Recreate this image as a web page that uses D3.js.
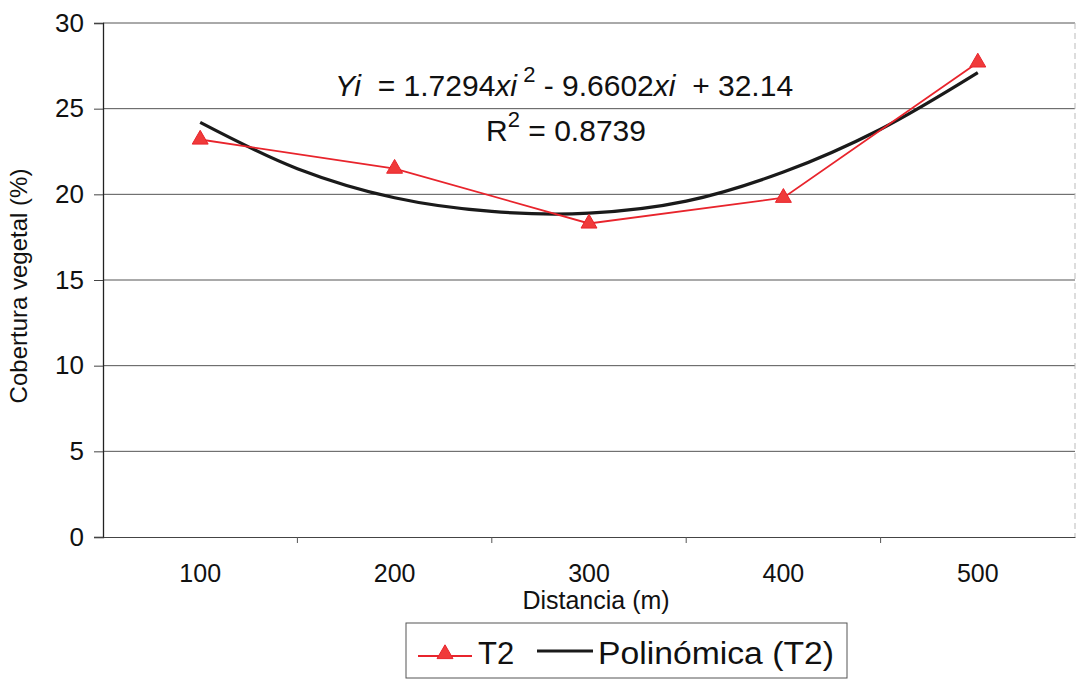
<!DOCTYPE html>
<html lang="es">
<head>
  <meta charset="UTF-8">
  <script src="https://d3js.org/d3.v7.min.js"></script>
  <style>
    body { margin: 0; background: #fff; }
    text { font-family: "Liberation Sans", Arial, sans-serif; fill: #111; white-space: pre; }
  </style>
  <title>Cobertura vegetal T2</title>
</head>
<body>
  <svg id="chart" width="1078" height="680"></svg>
  <script>
    // distancias (m) y cobertura vegetal observada (%)
    var distancias = [100, 200, 300, 400, 500];
    var t2 = [23.2, 21.5, 18.3, 19.8, 27.7];
    // tendencia polinómica, cada media categoría
    var trendX = [1, 1.5, 2, 2.5, 3, 3.5, 4, 4.5, 5];
    var trendY = [24.2, 21.5, 19.8, 19.0, 18.9, 19.6, 21.3, 23.8, 27.1];
    var yTicks = [0, 5, 10, 15, 20, 25, 30];

    var m = { left: 103, right: 1075, top: 23, bottom: 537 };
    var svg = d3.select('#chart');

    var x = d3.scaleBand().domain(distancias).range([m.left, m.right]);
    var bw = x.bandwidth();
    var xi = d3.scaleLinear().domain([1, 5])
      .range([x(distancias[0]) + bw / 2, x(distancias[4]) + bw / 2]);
    var y = d3.scaleLinear().domain([0, 30]).range([m.bottom, m.top]);

    // gridlines
    svg.append('g').selectAll('line').data(yTicks.slice(1)).join('line')
      .attr('x1', m.left).attr('x2', m.right)
      .attr('y1', d => y(d)).attr('y2', d => y(d))
      .attr('stroke', '#555').attr('stroke-width', 1);
    svg.append('line')
      .attr('x1', m.right).attr('x2', m.right).attr('y1', m.top).attr('y2', m.bottom)
      .attr('stroke', '#bbb').attr('stroke-dasharray', '6,4');

    // y axis
    var ya = svg.append('g').attr('transform', 'translate(' + m.left + ',0)')
      .call(d3.axisLeft(y).tickValues(yTicks).tickSize(9).tickPadding(10));
    ya.select('.domain').attr('stroke', '#222').attr('stroke-width', 1.3);
    ya.selectAll('.tick line').attr('stroke', '#444');
    ya.selectAll('text').style('font-size', '26px').attr('fill', '#111');

    // x axis, ticks between categories
    var xa = svg.append('g').attr('transform', 'translate(0,' + m.bottom + ')')
      .call(d3.axisBottom(x).tickSize(0).tickPadding(27));
    xa.select('.domain').attr('stroke', '#444').attr('stroke-width', 1);
    xa.selectAll('text').style('font-size', '25px').attr('fill', '#111');
    xa.selectAll('.sep').data(distancias.slice(1)).join('line').attr('class', 'sep')
      .attr('x1', d => x(d)).attr('x2', d => x(d)).attr('y1', 0).attr('y2', 6)
      .attr('stroke', '#555');

    // axis titles
    svg.append('text').attr('x', 596).attr('y', 609).attr('text-anchor', 'middle')
      .style('font-size', '25px').text('Distancia (m)');
    svg.append('text').attr('transform', 'translate(27,286) rotate(-90)')
      .attr('text-anchor', 'middle').style('font-size', '24px')
      .text('Cobertura vegetal (%)');

    // trendline
    var trend = trendX.map((d, i) => [d, trendY[i]]);
    svg.append('path').datum(trend)
      .attr('d', d3.line().x(d => xi(d[0])).y(d => y(d[1])).curve(d3.curveCatmullRom))
      .attr('fill', 'none').attr('stroke', '#1a1a1a').attr('stroke-width', 3.2);

    // T2 series
    var red = '#e8242c';
    svg.append('path').datum(t2)
      .attr('d', d3.line().x((d, i) => x(distancias[i]) + bw / 2).y(d => y(d)))
      .attr('fill', 'none').attr('stroke', red).attr('stroke-width', 1.8);
    var tri = d3.symbol().type(d3.symbolTriangle).size(110);
    svg.append('g').selectAll('path').data(t2).join('path')
      .attr('d', tri)
      .attr('transform', (d, i) => 'translate(' + (x(distancias[i]) + bw / 2) + ',' + y(d) + ')')
      .attr('fill', '#f03a3a').attr('stroke', red).attr('stroke-width', 1);

    // equation label
    var eq = svg.append('text').attr('x', 564).attr('y', 96).attr('text-anchor', 'middle')
      .style('font-size', '30px');
    eq.append('tspan').style('font-style', 'italic').text('Yi');
    eq.append('tspan').text('  = 1.7294');
    eq.append('tspan').style('font-style', 'italic').text('xi');
    eq.append('tspan').attr('dy', -14).style('font-size', '22px').text(' 2');
    eq.append('tspan').attr('dy', 14).text(' - 9.6602');
    eq.append('tspan').style('font-style', 'italic').text('xi');
    eq.append('tspan').text('  + 32.14');

    var r2 = svg.append('text').attr('x', 566).attr('y', 141).attr('text-anchor', 'middle')
      .style('font-size', '30px');
    r2.append('tspan').text('R');
    r2.append('tspan').attr('dy', -14).style('font-size', '22px').text('2');
    r2.append('tspan').attr('dy', 14).text(' = 0.8739');

    // legend
    var lg = svg.append('g');
    lg.append('rect').attr('x', 406).attr('y', 623).attr('width', 441).attr('height', 55)
      .attr('fill', '#fff').attr('stroke', '#555').attr('stroke-width', 1);
    lg.append('line').attr('x1', 418).attr('x2', 472).attr('y1', 656).attr('y2', 656)
      .attr('stroke', red).attr('stroke-width', 1.8);
    lg.append('path').attr('d', tri).attr('transform', 'translate(445,654)')
      .attr('fill', '#f03a3a').attr('stroke', red);
    lg.append('text').attr('x', 478).attr('y', 664).style('font-size', '31px').text('T2');
    lg.append('line').attr('x1', 537).attr('x2', 593).attr('y1', 651).attr('y2', 651)
      .attr('stroke', '#1a1a1a').attr('stroke-width', 3);
    lg.append('text').attr('x', 598).attr('y', 664).style('font-size', '31px')
      .attr('textLength', 236).attr('lengthAdjust', 'spacingAndGlyphs').text('Polinómica (T2)');
  </script>
</body>
</html>
